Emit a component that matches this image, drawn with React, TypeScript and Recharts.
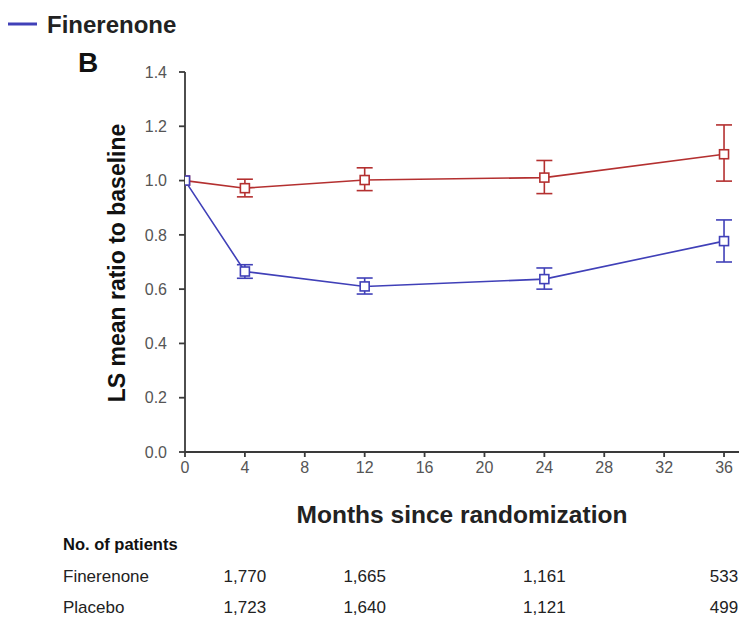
import React from "react";
import { LineChart, Line, XAxis, YAxis, ErrorBar } from "recharts";

const months = [0, 4, 12, 24, 36];
const finMean = [1.0, 0.665, 0.61, 0.637, 0.777];
const finLow = [null, 0.64, 0.582, 0.6, 0.7];
const finHigh = [null, 0.69, 0.641, 0.678, 0.855];
const plaMean = [1.0, 0.972, 1.002, 1.011, 1.097];
const plaLow = [null, 0.94, 0.963, 0.952, 0.998];
const plaHigh = [null, 1.005, 1.047, 1.074, 1.205];
const xTicks = [0, 4, 8, 12, 16, 20, 24, 28, 32, 36];
const yTicks = [0, 0.2, 0.4, 0.6, 0.8, 1.0, 1.2, 1.4];
const tableMonths = [4, 12, 24, 36];
const finPatients = ["1,770", "1,665", "1,161", "533"];
const plaPatients = ["1,723", "1,640", "1,121", "499"];

const BLUE = "#4040b8";
const RED = "#b43030";
const FONT = "'Liberation Sans', Arial, sans-serif";

const data = months.map((m, i) => ({
  month: m,
  fin: finMean[i],
  finErr: finLow[i] == null ? null : [finMean[i] - (finLow[i] as number), (finHigh[i] as number) - finMean[i]],
  pla: plaMean[i],
  plaErr: plaLow[i] == null ? null : [plaMean[i] - (plaLow[i] as number), (plaHigh[i] as number) - plaMean[i]],
}));

const squareDot = (color: string) => (props: any) => {
  const { cx, cy, index } = props;
  if (cx == null || cy == null) return <g key={index} />;
  return (
    <rect key={index} x={cx - 4.5} y={cy - 4.5} width={9} height={9} fill="#fff" stroke={color} strokeWidth={1.6} />
  );
};

const PLOT_LEFT = 185;
const PLOT_RIGHT = 739;
const X_MAX = 37;
const xPos = (m: number) => PLOT_LEFT + (m / X_MAX) * (PLOT_RIGHT - PLOT_LEFT);

export default function App() {
  return (
    <div style={{ position: "absolute", left: 0, top: 0, width: 739, height: 619, background: "#fff", fontFamily: FONT }}>
      <LineChart
        width={739}
        height={619}
        data={data}
        margin={{ top: 72, right: 0, bottom: 137, left: 125 }}
      >
        <XAxis
          dataKey="month"
          type="number"
          domain={[0, X_MAX]}
          ticks={xTicks}
          allowDataOverflow
          height={30}
          tickSize={5}
          tickMargin={5}
          stroke="#3a3a3a"
          strokeWidth={1.8}
          tick={{ fill: "#555", fontSize: 16, fontFamily: FONT }}
        />
        <YAxis
          type="number"
          domain={[0, 1.4]}
          ticks={yTicks}
          width={60}
          tickSize={6}
          tickMargin={12}
          stroke="#3a3a3a"
          strokeWidth={1.8}
          tickFormatter={(v: number) => v.toFixed(1)}
          tick={{ fill: "#555", fontSize: 16, fontFamily: FONT }}
        />
        <Line
          dataKey="pla"
          stroke={RED}
          strokeWidth={1.6}
          isAnimationActive={false}
          dot={squareDot(RED)}
        >
          <ErrorBar dataKey="plaErr" width={8} stroke={RED} strokeWidth={1.6} direction="y" />
        </Line>
        <Line
          dataKey="fin"
          stroke={BLUE}
          strokeWidth={1.6}
          isAnimationActive={false}
          dot={squareDot(BLUE)}
        >
          <ErrorBar dataKey="finErr" width={8} stroke={BLUE} strokeWidth={1.6} direction="y" />
        </Line>
      </LineChart>
      <svg width={739} height={619} style={{ position: "absolute", left: 0, top: 0, pointerEvents: "none" }}>
        <line x1={8} y1={24} x2={37} y2={24} stroke={BLUE} strokeWidth={3} />
        <text x={47} y={33} fontSize={24} fontWeight="bold" fill="#222" fontFamily={FONT}>Finerenone</text>
        <text x={78} y={72} fontSize={28} fontWeight="bold" fill="#111" fontFamily={FONT}>B</text>
        <text
          x={0}
          y={0}
          transform="translate(125,263) rotate(-90)"
          textAnchor="middle"
          fontSize={23}
          fontWeight="bold"
          fill="#111"
          fontFamily={FONT}
        >
          LS mean ratio to baseline
        </text>
        <text x={462} y={523} textAnchor="middle" fontSize={24.5} fontWeight="bold" fill="#222" fontFamily={FONT}>
          Months since randomization
        </text>
        <text x={63} y={550} fontSize={16.5} fontWeight="bold" fill="#111" fontFamily={FONT}>No. of patients</text>
        <text x={63} y={582} fontSize={17} fill="#222" fontFamily={FONT}>Finerenone</text>
        <text x={63} y={613} fontSize={17} fill="#222" fontFamily={FONT}>Placebo</text>
        {tableMonths.map((m, i) => (
          <text key={"f" + m} x={xPos(m)} y={582} textAnchor="middle" fontSize={17} fill="#222" fontFamily={FONT}>
            {finPatients[i]}
          </text>
        ))}
        {tableMonths.map((m, i) => (
          <text key={"p" + m} x={xPos(m)} y={613} textAnchor="middle" fontSize={17} fill="#222" fontFamily={FONT}>
            {plaPatients[i]}
          </text>
        ))}
      </svg>
    </div>
  );
}
